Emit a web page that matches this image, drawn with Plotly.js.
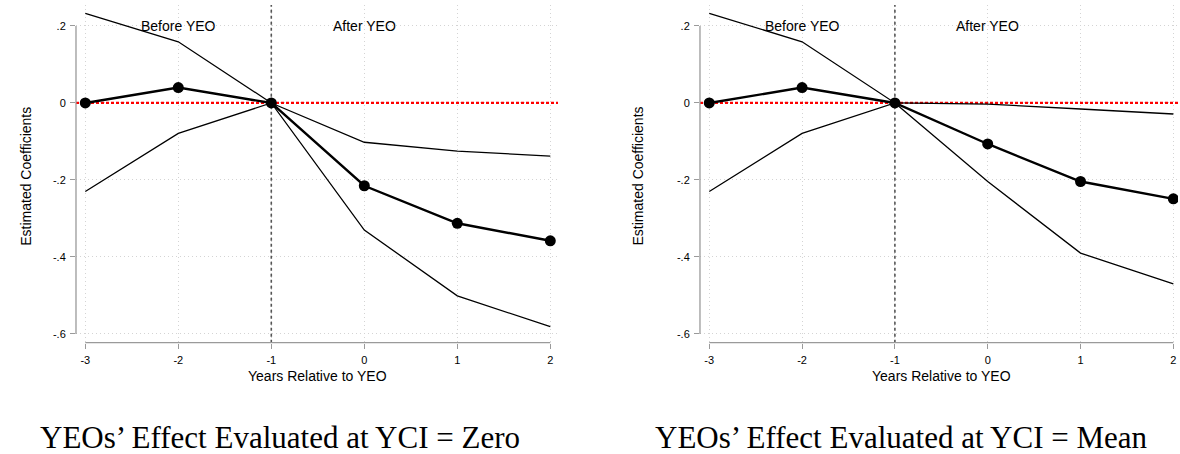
<!DOCTYPE html>
<html>
<head>
<meta charset="utf-8">
<script src="https://cdn.plot.ly/plotly-3.0.1.min.js"></script>
<style>html,body{margin:0;padding:0;background:#fff;}#chart{width:1180px;height:454px;}</style>
</head>
<body>
<div id="chart"></div>
<script>
// ---- data ----
const years = [-3, -2, -1, 0, 1, 2];
const coefZero  = [0, 0.040, 0, -0.215, -0.3125, -0.358];
const upperZero = [0.233, 0.159, 0, -0.102, -0.125, -0.138];
const lowerZero = [-0.230, -0.079, 0, -0.330, -0.501, -0.581];
const coefMean  = [0, 0.040, 0, -0.1065, -0.204, -0.249];
const upperMean = [0.233, 0.159, 0, -0.003, -0.0156, -0.0286];
const lowerMean = [-0.230, -0.079, 0, -0.204, -0.390, -0.470];
const yTickVals = [0.2, 0, -0.2, -0.4, -0.6];
const yTickText = ['.2', '0', '-.2', '-.4', '-.6'];
const xTickVals = [-3, -2, -1, 0, 1, 2];
const xTickText = ['-3', '-2', '-1', '0', '1', '2'];
const yeoYear = -1;
const refLevel = 0;
const captions = ['YEOs\u2019 Effect Evaluated at YCI = Zero', 'YEOs\u2019 Effect Evaluated at YCI = Mean'];
const yTitle = 'Estimated Coefficients';
const xTitle = 'Years Relative to YEO';
const beforeLabel = 'Before YEO';
const afterLabel = 'After YEO';

const SANS = 'Liberation Sans, Arial, Helvetica, sans-serif';
const SERIF = 'Liberation Serif, Times New Roman, serif';
const AXCOL = '#9a9a9a';

const yRange = [-0.6226, 0.2545];
const xRanges = [[-3.1, 2.083], [-3.1, 2.05]];
const domains = [[0.0644, 0.4729], [0.5932, 0.9983]];

function panelTraces(coef, up, lo, xa, ya, xr) {
  const ci = {width: 1.3, color: '#000'};
  return [
    {x: [yeoYear, yeoYear], y: yRange, xaxis: xa, yaxis: ya, mode: 'lines',
     line: {color: '#555555', width: 1.6, dash: '3px,3px'}, hoverinfo: 'skip', showlegend: false},
    {x: xr, y: [refLevel, refLevel], xaxis: xa, yaxis: ya, mode: 'lines',
     line: {color: '#ff0000', width: 2.2, dash: '3px,2px'}, hoverinfo: 'skip', showlegend: false},
    {x: years, y: up, xaxis: xa, yaxis: ya, mode: 'lines', line: ci, hoverinfo: 'skip', showlegend: false},
    {x: years, y: lo, xaxis: xa, yaxis: ya, mode: 'lines', line: ci, hoverinfo: 'skip', showlegend: false},
    {x: years, y: coef, xaxis: xa, yaxis: ya, mode: 'lines+markers',
     line: {width: 2.4, color: '#000'}, marker: {size: 11, color: '#000'}, showlegend: false}
  ];
}

const data = [].concat(
  panelTraces(coefZero, upperZero, lowerZero, 'x', 'y', xRanges[0]),
  panelTraces(coefMean, upperMean, lowerMean, 'x2', 'y2', xRanges[1])
);

function xaxisDef(domain, range, anchor) {
  return {
    domain: domain, range: range, anchor: anchor,
    tickvals: xTickVals, ticktext: xTickText,
    ticks: 'outside', ticklen: 5, tickwidth: 1, tickcolor: AXCOL,
    ticklabelstandoff: 2,
    showline: false, zeroline: false,
    showgrid: true, gridcolor: '#d4d4d4', gridwidth: 1, griddash: '1px,3px',
    tickfont: {family: SANS, size: 11, color: '#000'}
  };
}
function yaxisDef(range, anchor) {
  return {
    domain: [0.2452, 0.989], range: range, anchor: anchor,
    tickvals: yTickVals, ticktext: yTickText,
    ticks: 'outside', ticklen: 5, tickwidth: 1, tickcolor: AXCOL,
    ticklabelstandoff: 2,
    showline: false, zeroline: false,
    showgrid: true, gridcolor: '#d4d4d4', gridwidth: 1, griddash: '1px,3px',
    tickfont: {family: SANS, size: 11, color: '#000'}
  };
}

const layout = {
  width: 1180, height: 454,
  margin: {l: 0, r: 0, t: 0, b: 0},
  paper_bgcolor: '#fff', plot_bgcolor: '#fff',
  showlegend: false,
  xaxis: xaxisDef(domains[0], xRanges[0], 'y'),
  yaxis: yaxisDef(yRange, 'x'),
  xaxis2: xaxisDef(domains[1], xRanges[1], 'y2'),
  yaxis2: yaxisDef(yRange, 'x2'),
  shapes: [],
  annotations: []
};

[['x', 'y'], ['x2', 'y2']].forEach(function (p, i) {
  const xa = p[0], ya = p[1];
  const d = domains[i];
  // axis lines (Stata-style, spanning the tick range only)
  layout.shapes.push({type: 'line', xref: 'paper', yref: ya, x0: d[0], x1: d[0],
    y0: yTickVals[yTickVals.length - 1], y1: yTickVals[0], line: {color: AXCOL, width: 1.3}});
  layout.shapes.push({type: 'line', xref: xa, yref: 'paper', y0: 0.2452, y1: 0.2452,
    x0: xTickVals[0], x1: xTickVals[xTickVals.length - 1], line: {color: AXCOL, width: 1.3}});
  // before / after labels
  layout.annotations.push({xref: xa, yref: ya, x: yeoYear - 1, y: yTickVals[0], text: beforeLabel,
    showarrow: false, font: {family: SANS, size: 14, color: '#000'}});
  layout.annotations.push({xref: xa, yref: ya, x: yeoYear + 1, y: yTickVals[0], text: afterLabel,
    showarrow: false, font: {family: SANS, size: 14, color: '#000'}});
  // x title
  layout.annotations.push({xref: xa, yref: 'paper', x: (xTickVals[0] + xTickVals[xTickVals.length - 1]) / 2,
    y: 1 - 376 / 454, yanchor: 'middle', text: xTitle, showarrow: false,
    font: {family: SANS, size: 14, color: '#000'}});
});

// y titles
layout.annotations.push({xref: 'paper', yref: 'paper', x: 15.8 / 1180, y: 1 - 176 / 454, textangle: -90,
  text: yTitle, showarrow: false, font: {family: SANS, size: 14, color: '#000'}});
layout.annotations.push({xref: 'paper', yref: 'paper', x: 637.5 / 1180, y: 1 - 176 / 454, textangle: -90,
  text: yTitle, showarrow: false, font: {family: SANS, size: 14, color: '#000'}});

// captions
layout.annotations.push({xref: 'paper', yref: 'paper', x: 280 / 1180, y: 1 - 437 / 454, yanchor: 'middle',
  xanchor: 'center', text: captions[0], showarrow: false, font: {family: SERIF, size: 31, color: '#000'}});
layout.annotations.push({xref: 'paper', yref: 'paper', x: 901 / 1180, y: 1 - 437 / 454, yanchor: 'middle',
  xanchor: 'center', text: captions[1], showarrow: false, font: {family: SERIF, size: 31, color: '#000'}});

Plotly.newPlot('chart', data, layout, {displayModeBar: false, staticPlot: true});
</script>
</body>
</html>
